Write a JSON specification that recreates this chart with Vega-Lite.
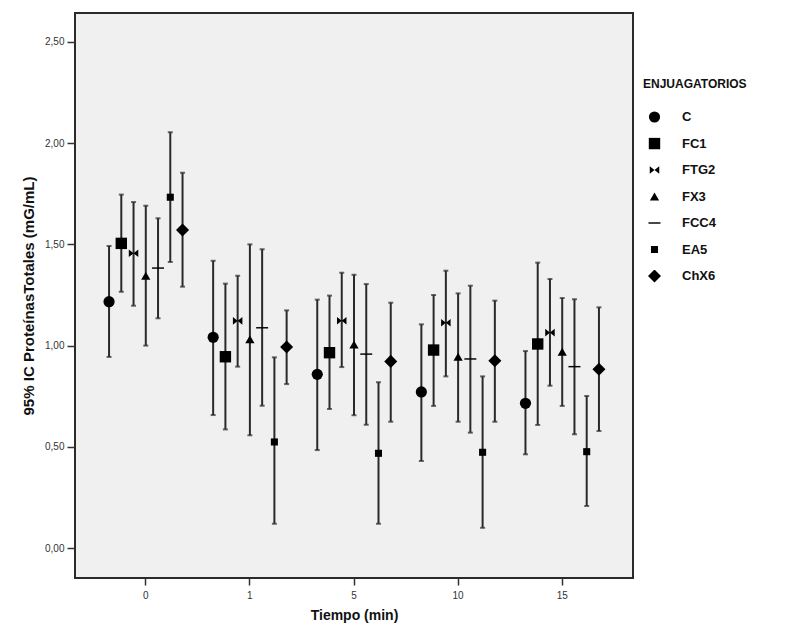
{
  "$schema": "https://vega.github.io/schema/vega-lite/v6.json",
  "autosize": {"type": "none"},
  "width": 558,
  "height": 565,
  "padding": {"left": 75, "top": 13, "right": 179, "bottom": 51},
  "background": "white",
  "config": {
    "view": {"fill": "#f0f0f0", "stroke": "#2a2a2a", "strokeWidth": 2},
    "font": "Liberation Sans"
  },
  "data": {"values": [
    {"t": "0", "g": "C", "mean": 1.217, "lo": 0.944, "hi": 1.492},
    {"t": "0", "g": "FC1", "mean": 1.505, "lo": 1.266, "hi": 1.746},
    {"t": "0", "g": "FTG2", "mean": 1.456, "lo": 1.197, "hi": 1.709},
    {"t": "0", "g": "FX3", "mean": 1.345, "lo": 1.0, "hi": 1.691},
    {"t": "0", "g": "FCC4", "mean": 1.383, "lo": 1.135, "hi": 1.629},
    {"t": "0", "g": "EA5", "mean": 1.733, "lo": 1.413, "hi": 2.054},
    {"t": "0", "g": "ChX6", "mean": 1.571, "lo": 1.291, "hi": 1.854},
    {"t": "1", "g": "C", "mean": 1.041, "lo": 0.657, "hi": 1.419},
    {"t": "1", "g": "FC1", "mean": 0.945, "lo": 0.586, "hi": 1.306},
    {"t": "1", "g": "FTG2", "mean": 1.122, "lo": 0.896, "hi": 1.345},
    {"t": "1", "g": "FX3", "mean": 1.031, "lo": 0.557, "hi": 1.50},
    {"t": "1", "g": "FCC4", "mean": 1.088, "lo": 0.703, "hi": 1.476},
    {"t": "1", "g": "EA5", "mean": 0.524, "lo": 0.12, "hi": 0.942},
    {"t": "1", "g": "ChX6", "mean": 0.993, "lo": 0.81, "hi": 1.174},
    {"t": "5", "g": "C", "mean": 0.858, "lo": 0.484, "hi": 1.227},
    {"t": "5", "g": "FC1", "mean": 0.965, "lo": 0.687, "hi": 1.247},
    {"t": "5", "g": "FTG2", "mean": 1.123, "lo": 0.894, "hi": 1.36},
    {"t": "5", "g": "FX3", "mean": 1.006, "lo": 0.656, "hi": 1.35},
    {"t": "5", "g": "FCC4", "mean": 0.958, "lo": 0.609, "hi": 1.304},
    {"t": "5", "g": "EA5", "mean": 0.468, "lo": 0.12, "hi": 0.819},
    {"t": "5", "g": "ChX6", "mean": 0.922, "lo": 0.624, "hi": 1.212},
    {"t": "10", "g": "C", "mean": 0.771, "lo": 0.43, "hi": 1.105},
    {"t": "10", "g": "FC1", "mean": 0.978, "lo": 0.702, "hi": 1.25},
    {"t": "10", "g": "FTG2", "mean": 1.113, "lo": 0.848, "hi": 1.37},
    {"t": "10", "g": "FX3", "mean": 0.945, "lo": 0.624, "hi": 1.258},
    {"t": "10", "g": "FCC4", "mean": 0.934, "lo": 0.57, "hi": 1.296},
    {"t": "10", "g": "EA5", "mean": 0.473, "lo": 0.10, "hi": 0.848},
    {"t": "10", "g": "ChX6", "mean": 0.925, "lo": 0.624, "hi": 1.222},
    {"t": "15", "g": "C", "mean": 0.715, "lo": 0.463, "hi": 0.973},
    {"t": "15", "g": "FC1", "mean": 1.008, "lo": 0.608, "hi": 1.41},
    {"t": "15", "g": "FTG2", "mean": 1.064, "lo": 0.802, "hi": 1.329},
    {"t": "15", "g": "FX3", "mean": 0.97, "lo": 0.702, "hi": 1.235},
    {"t": "15", "g": "FCC4", "mean": 0.896, "lo": 0.562, "hi": 1.229},
    {"t": "15", "g": "EA5", "mean": 0.476, "lo": 0.208, "hi": 0.751},
    {"t": "15", "g": "ChX6", "mean": 0.883, "lo": 0.578, "hi": 1.189}
  ]},
  "encoding": {
    "x": {
      "field": "t", "type": "ordinal", "sort": ["0", "1", "5", "10", "15"],
      "scale": {"paddingInner": 0, "paddingOuter": 0.18},
      "axis": {
        "title": "Tiempo (min)", "titleFont": "Liberation Sans", "titleFontSize": 14, "titleFontWeight": "bold",
        "titleColor": "#111", "titlePadding": 8,
        "labelAngle": 0, "labelFontSize": 10, "labelColor": "#333", "labelPadding": 5,
        "domain": false, "tickColor": "#333", "tickSize": 7, "tickWidth": 1.5
      }
    },
    "xOffset": {
      "field": "g", "type": "nominal",
      "sort": ["C", "FC1", "FTG2", "FX3", "FCC4", "EA5", "ChX6"],
      "scale": {"paddingInner": 0, "paddingOuter": 0.75}
    }
  },
  "layer": [
    {
      "mark": {"type": "rule", "color": "#2a2a2a", "strokeWidth": 2},
      "encoding": {
        "y": {
          "field": "lo", "type": "quantitative",
          "scale": {"domain": [-0.148, 2.643], "nice": false, "zero": false},
          "axis": {
            "title": "95% IC ProteínasTotales (mG/mL)", "titleFont": "Liberation Sans", "titleFontSize": 15,
            "titleFontWeight": "bold", "titleColor": "#111", "titlePadding": 8,
            "values": [0, 0.5, 1, 1.5, 2, 2.5],
            "labelExpr": "replace(format(datum.value, '.2f'), '.', ',')",
            "labelFontSize": 10, "labelColor": "#333", "labelPadding": 3,
            "domain": false, "grid": false, "tickColor": "#333", "tickSize": 8, "tickWidth": 1.5
          }
        },
        "y2": {"field": "hi"}
      }
    },
    {
      "mark": {"type": "tick", "color": "#2a2a2a", "thickness": 2, "size": 5, "orient": "horizontal"},
      "encoding": {"y": {"field": "lo", "type": "quantitative"}}
    },
    {
      "mark": {"type": "tick", "color": "#2a2a2a", "thickness": 2, "size": 5, "orient": "horizontal"},
      "encoding": {"y": {"field": "hi", "type": "quantitative"}}
    },
    {
      "mark": {"type": "point", "filled": true, "color": "#000", "opacity": 1},
      "encoding": {
        "y": {"field": "mean", "type": "quantitative"},
        "shape": {
          "field": "g", "type": "nominal",
          "sort": ["C", "FC1", "FTG2", "FX3", "FCC4", "EA5", "ChX6"],
          "scale": {
            "domain": ["C", "FC1", "FTG2", "FX3", "FCC4", "EA5", "ChX6"],
            "range": ["circle", "square", "M-1,-0.8L1,0.8L1,-0.8L-1,0.8Z", "triangle-up", "M-1,-0.12L1,-0.12L1,0.12L-1,0.12Z", "square", "diamond"]
          },
          "legend": {
            "title": "ENJUAGATORIOS", "titleFont": "Liberation Sans", "titleFontSize": 12, "titleFontWeight": "bold",
            "titleColor": "#111", "titlePadding": 20,
            "orient": "none", "legendX": 568, "legendY": 66,
            "labelFont": "Liberation Sans", "labelFontSize": 13, "labelFontWeight": "bold", "labelColor": "#111",
            "labelOffset": 20, "clipHeight": 12, "rowPadding": 13.5, "symbolOffset": 4,
            "symbolFillColor": "#000", "symbolStrokeColor": "#000"
          }
        },
        "size": {
          "field": "g", "type": "nominal",
          "sort": ["C", "FC1", "FTG2", "FX3", "FCC4", "EA5", "ChX6"],
          "scale": {
            "type": "ordinal",
            "domain": ["C", "FC1", "FTG2", "FX3", "FCC4", "EA5", "ChX6"],
            "range": [125, 130, 90, 85, 144, 50, 170]
          },
          "legend": {
            "title": "ENJUAGATORIOS", "titleFont": "Liberation Sans", "titleFontSize": 12, "titleFontWeight": "bold",
            "titleColor": "#111", "titlePadding": 20,
            "orient": "none", "legendX": 568, "legendY": 66,
            "labelFont": "Liberation Sans", "labelFontSize": 13, "labelFontWeight": "bold", "labelColor": "#111",
            "labelOffset": 20, "clipHeight": 12, "rowPadding": 13.5, "symbolOffset": 4,
            "symbolFillColor": "#000", "symbolStrokeColor": "#000"
          }
        }
      }
    }
  ]
}
